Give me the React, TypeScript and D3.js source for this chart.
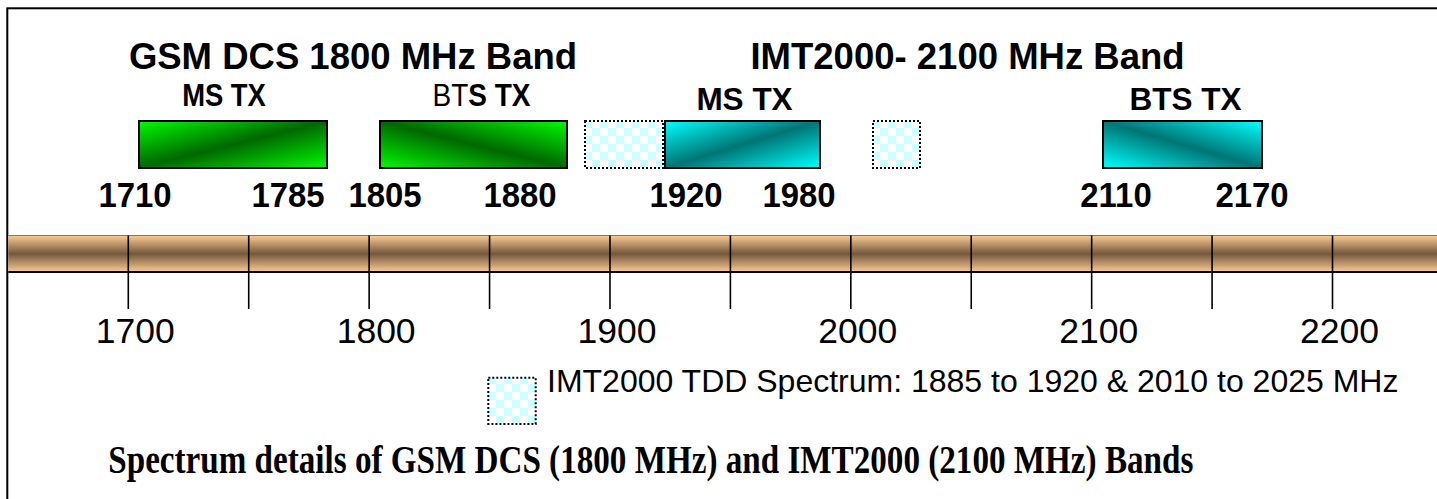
import React from "react";
import * as d3 from "d3";

// ---- data ----
const systemTitles = ["GSM DCS 1800 MHz Band", "IMT2000- 2100 MHz Band"];
const bandNames = ["MS TX", "BTS TX", "MS TX", "BTS TX"];
const bandSystem = [0, 0, 1, 1];
const bandLow = [1710, 1805, 1920, 2110];
const bandHigh = [1785, 1880, 1980, 2170];
const tddLow = [1885, 2010];
const tddHigh = [1920, 2025];
const axisTicks = [1700, 1750, 1800, 1850, 1900, 1950, 2000, 2050, 2100, 2150, 2200];
const axisLabels = [1700, 1800, 1900, 2000, 2100, 2200];
const legendText = "IMT2000 TDD Spectrum: 1885 to 1920 & 2010 to 2025 MHz";
const caption = "Spectrum details of GSM DCS (1800 MHz) and IMT2000 (2100 MHz) Bands";

// ---- layout ----
const W = 1437;
const H = 499;
const SANS = "'Liberation Sans', Arial, Helvetica, sans-serif";
const SERIF = "'Liberation Serif', 'Times New Roman', serif";

// The band diagram is drawn schematically (not to the axis scale):
// a piecewise-linear scale places every band edge.
const bandEdges = Array.from(new Set([...bandLow, ...bandHigh, ...tddLow, ...tddHigh])).sort((a, b) => a - b);
const bandEdgePx = [138, 328, 379, 568, 584, 664, 821, 872, 921, 1102, 1263];
const diagramX = d3.scaleLinear().domain(bandEdges).range(bandEdgePx);

// Frequency ruler scale
const axisX = d3.scaleLinear().domain([1700, 2200]).range([128.3, 1332.5]);

// Per-band offsets for the edge frequency labels [low, high] and band name
const edgeLabelDx = [[-3, -40], [6, -48], [22, -22], [14, -11]];
const nameDx = [-9, 8, 2, 3];
const nameBaseline = [106, 106, 110, 110];
const nameSqueeze = [0.87, 0.89, 1, 1];
const regularPrefix = [0, 2, 0, 0];
const titleDx = [0, 4];

const barTop = 120.5;
const barBottom = 169.5;
const rulerTop = 235.5;
const rulerBottom = 272;
const tickBottom = 309;

function Squeezed({ x, y, sx, children, ...rest }: any) {
  return (
    <g transform={`translate(${x},${y}) scale(${sx},1)`}>
      <text x={0} y={0} textAnchor="middle" {...rest}>
        {children}
      </text>
    </g>
  );
}

export default function App() {
  const gradIds = ["gMsGsm", "gBtsGsm", "gMsImt", "gBtsImt"];
  return (
    <svg
      width={W}
      height={H}
      viewBox={`0 0 ${W} ${H}`}
      style={{ position: "absolute", left: 0, top: 0, display: "block", background: "#fff" }}
    >
      <defs>
        <linearGradient id="gMsGsm" x1="0" y1="0" x2="1" y2="1">
          <stop offset="0" stopColor="#00fa00" />
          <stop offset="0.5" stopColor="#006800" />
          <stop offset="1" stopColor="#00fa00" />
        </linearGradient>
        <linearGradient id="gBtsGsm" x1="0" y1="1" x2="1" y2="0">
          <stop offset="0" stopColor="#00fa00" />
          <stop offset="0.5" stopColor="#006800" />
          <stop offset="1" stopColor="#00fa00" />
        </linearGradient>
        <linearGradient id="gMsImt" x1="0" y1="0" x2="1" y2="1">
          <stop offset="0" stopColor="#00ffff" />
          <stop offset="0.5" stopColor="#007575" />
          <stop offset="1" stopColor="#00ffff" />
        </linearGradient>
        <linearGradient id="gBtsImt" x1="0" y1="1" x2="1" y2="0">
          <stop offset="0" stopColor="#00ffff" />
          <stop offset="0.5" stopColor="#007575" />
          <stop offset="1" stopColor="#00ffff" />
        </linearGradient>
        <linearGradient id="ruler" x1="0" y1="0" x2="0" y2="1">
          <stop offset="0" stopColor="#fccb94" />
          <stop offset="0.5" stopColor="#74583c" />
          <stop offset="1" stopColor="#fccb94" />
        </linearGradient>
        <pattern id="checker" width="16" height="16" patternUnits="userSpaceOnUse">
          <rect width="16" height="16" fill="#ffffff" />
          <rect width="8" height="8" fill="#ccffff" />
          <rect x="8" y="8" width="8" height="8" fill="#ccffff" />
        </pattern>
      </defs>

      <rect x={0} y={0} width={W} height={H} fill="#fff" />
      {/* outer frame (runs past the right and bottom edges) */}
      <rect x={7.3} y={8.3} width={W + 50} height={H + 50} fill="none" stroke="#000" strokeWidth={2} />

      {/* system titles */}
      {systemTitles.map((t, s) => {
        const lo = d3.min(bandLow.filter((_, i) => bandSystem[i] === s)) as number;
        const hi = d3.max(bandHigh.filter((_, i) => bandSystem[i] === s)) as number;
        return (
          <text
            key={t}
            x={(diagramX(lo) + diagramX(hi)) / 2 + titleDx[s]}
            y={68.5}
            textAnchor="middle"
            fontFamily={SANS}
            fontWeight="bold"
            fontSize={36.5}
          >
            {t}
          </text>
        );
      })}

      {/* TDD blocks */}
      {tddLow.map((lo, i) => (
        <rect
          key={`tdd${i}`}
          x={diagramX(lo) + 1}
          y={barTop + 0.5}
          width={diagramX(tddHigh[i]) - diagramX(lo) - 2}
          height={barBottom - barTop - 2}
          fill="url(#checker)"
          stroke="#000"
          strokeWidth={2}
          strokeDasharray="2 2"
        />
      ))}

      {/* paired bands */}
      {bandLow.map((lo, i) => {
        const x0 = diagramX(lo);
        const x1 = diagramX(bandHigh[i]);
        const name = bandNames[i];
        const k = regularPrefix[i];
        return (
          <g key={`band${i}`}>
            <rect
              x={x0 + 1}
              y={barTop + 0.5}
              width={x1 - x0 - 2}
              height={barBottom - barTop - 2}
              fill={`url(#${gradIds[i]})`}
              stroke="#000"
              strokeWidth={2}
            />
            <Squeezed
              x={(x0 + x1) / 2 + nameDx[i]}
              y={nameBaseline[i]}
              sx={nameSqueeze[i]}
              fontFamily={SANS}
              fontSize={31.5}
              fontWeight="bold"
            >
              {k > 0 && <tspan fontWeight="normal">{name.slice(0, k)}</tspan>}
              <tspan>{name.slice(k)}</tspan>
            </Squeezed>
            <Squeezed
              x={x0 + edgeLabelDx[i][0]}
              y={206.5}
              sx={0.94}
              fontFamily={SANS}
              fontSize={35}
              fontWeight="bold"
            >
              {lo}
            </Squeezed>
            <Squeezed
              x={x1 + edgeLabelDx[i][1]}
              y={206.5}
              sx={0.94}
              fontFamily={SANS}
              fontSize={35}
              fontWeight="bold"
            >
              {bandHigh[i]}
            </Squeezed>
          </g>
        );
      })}

      {/* frequency ruler */}
      <rect x={8.3} y={rulerTop} width={W - 8.3} height={rulerBottom - rulerTop} fill="url(#ruler)" />
      <line x1={8.3} x2={W} y1={rulerTop} y2={rulerTop} stroke="#777" strokeWidth={1} />
      <line x1={8.3} x2={W} y1={rulerBottom} y2={rulerBottom} stroke="#000" strokeWidth={2} />
      {axisTicks.map((t) => (
        <line
          key={`tick${t}`}
          x1={axisX(t)}
          x2={axisX(t)}
          y1={rulerTop}
          y2={tickBottom}
          stroke="#000"
          strokeWidth={1.6}
        />
      ))}
      {axisLabels.map((t) => (
        <text
          key={`lab${t}`}
          x={axisX(t) + 7}
          y={342.5}
          textAnchor="middle"
          fontFamily={SANS}
          fontSize={35.5}
        >
          {t}
        </text>
      ))}

      {/* legend */}
      <rect
        x={488.3}
        y={377.7}
        width={47.4}
        height={46.3}
        fill="url(#checker)"
        stroke="#000"
        strokeWidth={2}
        strokeDasharray="2 2"
      />
      <text x={547} y={391.5} fontFamily={SANS} fontSize={32}>
        {legendText}
      </text>

      {/* caption */}
      <text
        x={108.3}
        y={472.5}
        fontFamily={SERIF}
        fontWeight="bold"
        fontSize={39}
        textLength={1085}
        lengthAdjust="spacingAndGlyphs"
      >
        {caption}
      </text>
    </svg>
  );
}
